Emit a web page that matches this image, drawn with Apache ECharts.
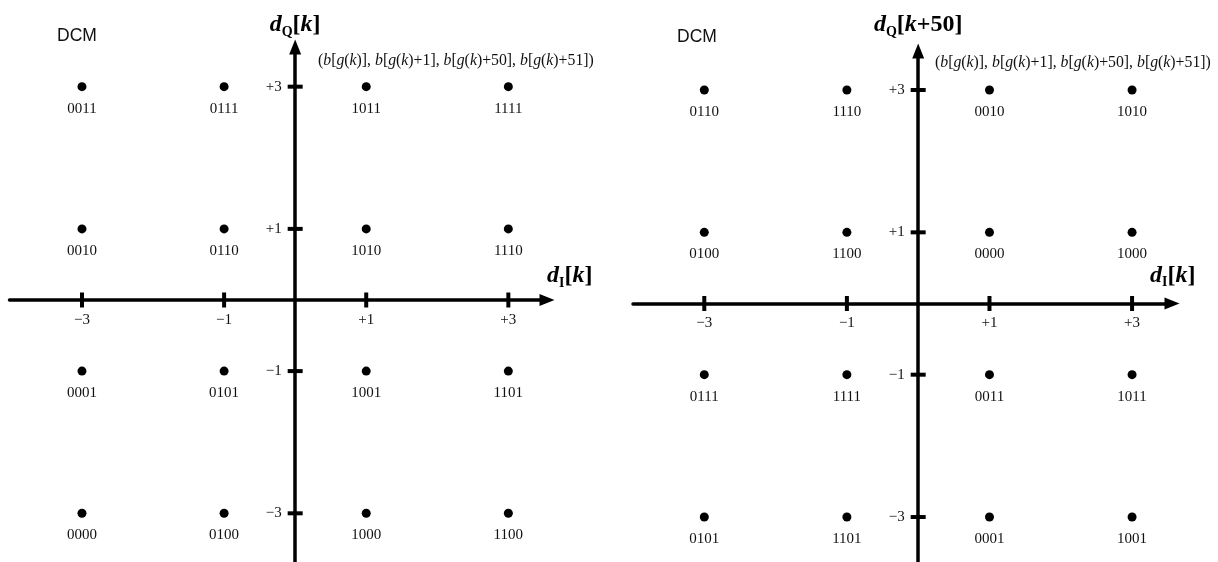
<!DOCTYPE html>
<html><head><meta charset="utf-8">
<script src="https://cdn.jsdelivr.net/npm/echarts@6/dist/echarts.min.js"></script>
<style>html,body{margin:0;padding:0;background:#fff}#c{width:1218px;height:562px}</style>
</head><body><div id="c"></div>
<script>
// ---- data ----
const levelsX = [-3, -1, 1, 3];           // in-phase levels (columns, left to right)
const levelsY = [3, 1, -1, -3];           // quadrature levels (rows, top to bottom)
const xTicks = [-3, -1, 1, 3];
const yTicks = [3, 1, -1, -3];
const tickText = {'-3': '\u22123', '-1': '\u22121', '1': '+1', '3': '+3'};
const leftCodes = [
  ['0011', '0111', '1011', '1111'],
  ['0010', '0110', '1010', '1110'],
  ['0001', '0101', '1001', '1101'],
  ['0000', '0100', '1000', '1100']
];
const rightCodes = [
  ['0110', '1110', '0010', '1010'],
  ['0100', '1100', '0000', '1000'],
  ['0111', '1111', '0011', '1011'],
  ['0101', '1101', '0001', '1001']
];
const panelLabel = 'DCM';
const leftXName = '{d|d}{s|I}{b|[}{i|k}{b|]}';
const leftYName = '{d|d}{s|Q}{b|[}{i|k}{b|]}';
const rightXName = '{d|d}{s|I}{b|[}{i|k}{b|]}';
const rightYName = '{d|d}{s|Q}{b|[}{i|k}{b|+50]}';
const annotation = '({i|b}[{i|g}({i|k})], {i|b}[{i|g}({i|k})+1], {i|b}[{i|g}({i|k})+50], {i|b}[{i|g}({i|k})+51])';

// ---- styling helpers ----
const SERIF = 'Liberation Serif';
const nameRich = {
  d: {fontFamily: SERIF, fontStyle: 'italic', fontWeight: 'bold', fontSize: 24, lineHeight: 28, verticalAlign: 'middle', color: '#000'},
  i: {fontFamily: SERIF, fontStyle: 'italic', fontWeight: 'bold', fontSize: 24, lineHeight: 28, verticalAlign: 'middle', color: '#000'},
  b: {fontFamily: SERIF, fontWeight: 'bold', fontSize: 24, lineHeight: 28, verticalAlign: 'middle', color: '#000'},
  s: {fontFamily: SERIF, fontWeight: 'bold', fontSize: 14, lineHeight: 14, padding: [14, 0, 0, 0], verticalAlign: 'middle', color: '#000'}
};
function toPoints(codes) {
  const out = [];
  codes.forEach((row, r) => row.forEach((code, c) => out.push({value: [levelsX[c], levelsY[r]], name: code})));
  return out;
}
function xAxisCfg(gi, min, max, name, gap, padB) {
  return {
    type: 'value', gridIndex: gi, min: min, max: max,
    splitLine: {show: false}, axisTick: {show: false}, axisLabel: {show: false},
    axisLine: {onZero: true, symbol: ['none', 'triangle'], symbolSize: [12, 15],
      lineStyle: {color: '#000', width: 3.5}},
    name: name, nameLocation: 'end', nameGap: gap,
    nameTextStyle: {align: 'left', verticalAlign: 'bottom', padding: [0, 0, padB, 0], rich: nameRich}
  };
}
function yAxisCfg(gi, min, max, name, gap) {
  return {
    type: 'value', gridIndex: gi, min: min, max: max,
    splitLine: {show: false}, axisTick: {show: false}, axisLabel: {show: false},
    axisLine: {onZero: true, symbol: ['none', 'triangle'], symbolSize: [12, 15],
      lineStyle: {color: '#000', width: 3.5}},
    name: name, nameLocation: 'end', nameGap: gap,
    nameTextStyle: {rich: nameRich}
  };
}
function pointSeries(gi, codes) {
  return {
    type: 'scatter', xAxisIndex: gi, yAxisIndex: gi, data: toPoints(codes),
    symbol: 'circle', symbolSize: 9, itemStyle: {color: '#000', opacity: 1}, silent: true, z: 4,
    label: {show: true, position: 'bottom', distance: 10, formatter: p => p.name,
      fontFamily: SERIF, fontSize: 15, color: '#111'}
  };
}
function tickSeries(gi) {
  return [
    {type: 'scatter', xAxisIndex: gi, yAxisIndex: gi, data: xTicks.map(v => [v, 0]),
      symbol: 'rect', symbolSize: [4, 15], itemStyle: {color: '#000', opacity: 1}, silent: true, z: 3,
      label: {show: true, position: 'bottom', distance: 5, formatter: p => tickText[String(p.value[0])],
        fontFamily: SERIF, fontSize: 15, color: '#111'}},
    {type: 'scatter', xAxisIndex: gi, yAxisIndex: gi, data: yTicks.map(v => [0, v]),
      symbol: 'rect', symbolSize: [15, 4], itemStyle: {color: '#000', opacity: 1}, silent: true, z: 3,
      label: {show: true, position: 'left', distance: 6, formatter: p => tickText[String(p.value[1])],
        fontFamily: SERIF, fontSize: 15, color: '#111'}}
  ];
}
const annStyle = {fontFamily: SERIF, fontSize: 15.8, fontWeight: 'normal', color: '#111',
  rich: {i: {fontFamily: SERIF, fontStyle: 'italic', fontSize: 15.8, color: '#111'}}};
const dcmStyle = {fontFamily: 'Liberation Sans', fontSize: 17.5, fontWeight: 'normal', color: '#111'};

const chart = echarts.init(document.getElementById('c'), null, {renderer: 'canvas'});
chart.setOption({
  animation: false,
  backgroundColor: '#fff',
  title: [
    {text: panelLabel, left: 57, top: 27, padding: 0, textStyle: dcmStyle},
    {text: annotation, left: 318, top: 53, padding: 0, textStyle: annStyle},
    {text: panelLabel, left: 677, top: 28, padding: 0, textStyle: dcmStyle},
    {text: annotation, left: 935, top: 55, padding: 0, textStyle: annStyle}
  ],
  grid: [
    {left: 9.5, top: 47, width: 537.5, height: 518, containLabel: false, outerBoundsMode: 'none'},
    {left: 633, top: 51, width: 539, height: 514, containLabel: false, outerBoundsMode: 'none'}
  ],
  xAxis: [
    xAxisCfg(0, -4.02, 3.544, leftXName, 0, 10),
    xAxisCfg(1, -4.0, 3.56, rightXName, -22, 14)
  ],
  yAxis: [
    yAxisCfg(0, -3.727, 3.558, leftYName, 8),
    yAxisCfg(1, -3.674, 3.548, rightYName, 12)
  ],
  series: [
    pointSeries(0, leftCodes), ...tickSeries(0),
    pointSeries(1, rightCodes), ...tickSeries(1)
  ]
});
</script></body></html>
